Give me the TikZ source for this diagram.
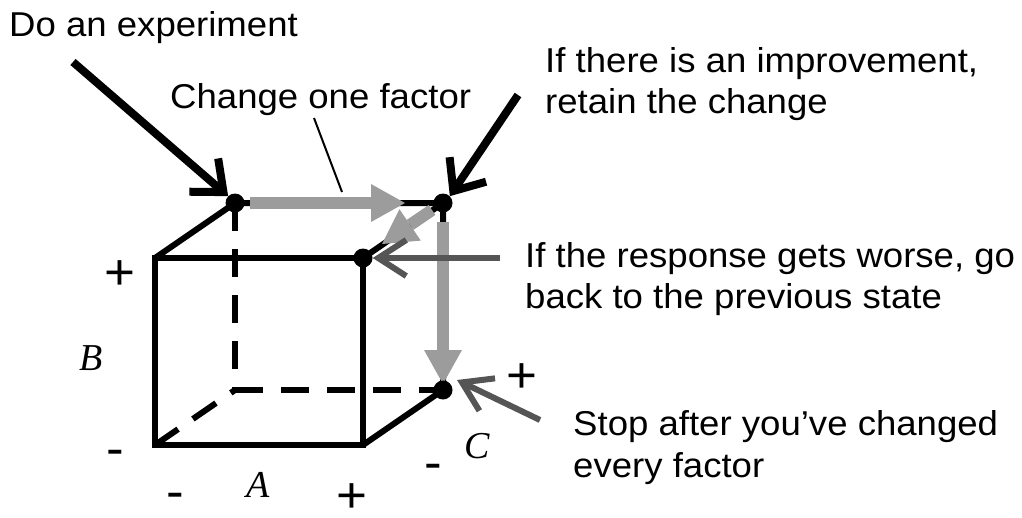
\documentclass[tikz,border=0pt]{standalone}
\usepackage{fontspec}
\setmainfont[FakeStretch=1.06]{Liberation Sans}
\newfontfamily\serifit{Liberation Serif}
\usetikzlibrary{arrows.meta}
\definecolor{arrowgray}{HTML}{9C9C9C}
\definecolor{darkgrayarrow}{HTML}{555555}
\begin{document}
\begin{tikzpicture}[x=1pt,y=-1pt,
  label/.style={inner sep=0pt, anchor=base west, font=\fontsize{34.5}{40}\selectfont},
  sign/.style={inner sep=0pt, font=\fontsize{50}{56}\selectfont},
  axis/.style={inner sep=0pt, font=\fontsize{38}{44}\selectfont\serifit\itshape},
  cubeline/.style={line width=6pt, line join=miter},
  hidden/.style={line width=6pt, dash pattern=on 28pt off 18pt},
  dot/.style={circle, fill=black, inner sep=0pt, minimum size=19pt},
  grayarrow/.style={line width=12pt, draw=arrowgray, -{Triangle[length=34pt,width=38pt,line width=0pt,fill=arrowgray]}},
  blackarrow/.style={line width=8pt, -{Straight Barb[length=26pt,width=44pt]}},
  greyarrow/.style={line width=6pt, draw=darkgrayarrow, -{Straight Barb[length=28pt,width=36pt]}},
  pointer/.style={line width=2pt}
]
\path[use as bounding box] (0,0) rectangle (1022,517);

% cube corners
\coordinate (ftl) at (155,258);
\coordinate (ftr) at (363,258);
\coordinate (fbl) at (155,445);
\coordinate (fbr) at (363,445);
\coordinate (btl) at (235,203);
\coordinate (btr) at (443,203);
\coordinate (bbl) at (235,390);
\coordinate (bbr) at (443,390);

% hidden edges
\draw[hidden] (btl) -- (bbl);
\draw[hidden] (bbl) -- (bbr);
\draw[hidden] (fbl) -- (bbl);

% visible edges
\draw[cubeline] (ftl) rectangle (fbr);
\draw[cubeline] (ftl) -- (btl) -- (btr) -- (bbr) -- (fbr);
\draw[cubeline] (ftr) -- (btr);

% gray path arrows
\coordinate (g1s) at (250,203);
\coordinate (g1e) at (405,203);
\draw[grayarrow] (g1s) -- (g1e);
\coordinate (g2s) at (432,210);
\coordinate (g2e) at (382,244);
\draw[grayarrow] (g2s) -- (g2e);
\coordinate (g3s) at (443,222);
\coordinate (g3e) at (443,384);
\draw[grayarrow] (g3s) -- (g3e);

% dots
\node[dot] (start) at (btl) {};
\node[dot] (improved) at (btr) {};
\node[dot] (back) at (ftr) {};
\node[dot] (stop) at (bbr) {};

% texts
\node[label] (t1) at (9,36) {Do an experiment};
\node[label] (t2) at (170,108) {Change one factor};
\node[label] (t3a) at (545,72) {If there is an improvement,};
\node[label] (t3b) at (545,113) {retain the change};
\node[label] (t4a) at (525,267) {If the response gets worse, go};
\node[label] (t4b) at (525,308) {back to the previous state};
\node[label] (t5a) at (573,435) {Stop after you’ve changed};
\node[label] (t5b) at (573,477) {every factor};

% annotation arrows
\coordinate (a1s) at (73,62);
\draw[blackarrow] (a1s) -- (start.north west);
\coordinate (a2s) at (518,95);
\draw[blackarrow] (a2s) -- (improved.north east);
\coordinate (a3s) at (500,258);
\draw[greyarrow] (a3s) -- (back.east);
\coordinate (a4s) at (540,420);
\draw[greyarrow] (a4s) -- ([xshift=14pt,yshift=10pt]stop.center);
\coordinate (p1s) at (314,118);
\coordinate (p1e) at (342,192);
\draw[pointer] (p1s) -- (p1e);

% axis labels
\node[sign] (bplus) at (120,275) {+};
\node[axis] (B) at (91,358) {B};
\node[sign] (bminus) at (115,458) {-};
\node[sign] (aminus) at (175,501) {-};
\node[axis] (A) at (258,485) {A};
\node[sign] (aplus) at (352,498) {+};
\node[sign] (cminus) at (433,472) {-};
\node[axis] (C) at (477,446) {C};
\node[sign] (cplus) at (522,378) {+};
\end{tikzpicture}
\end{document}
